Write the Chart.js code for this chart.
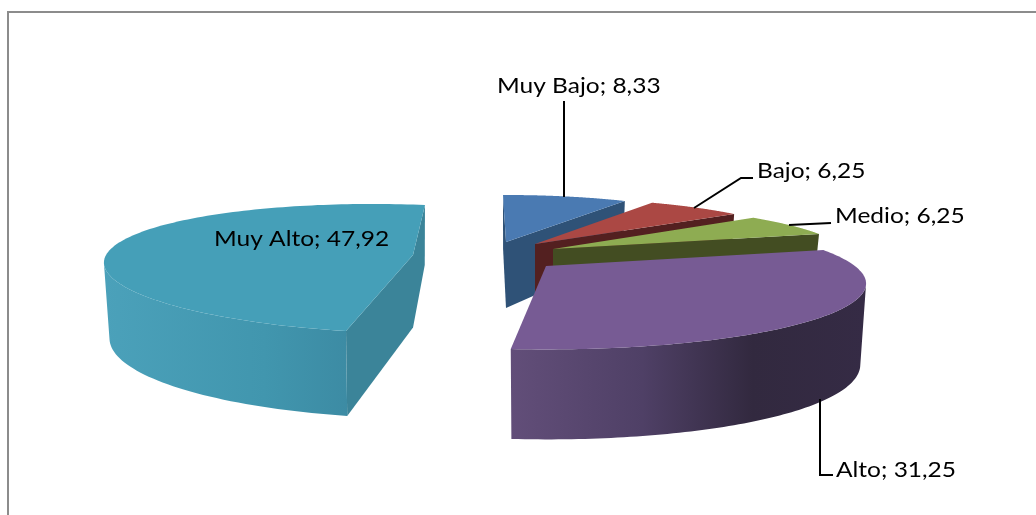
<!DOCTYPE html>
<html><head><meta charset="utf-8">
<script src="https://cdn.jsdelivr.net/npm/chart.js@4"></script>
<style>html,body{margin:0;padding:0;background:#fff}canvas{display:block}</style>
</head><body><canvas id="c" width="1036" height="515"></canvas>
<script>
const categories = ['Muy Bajo','Bajo','Medio','Alto','Muy Alto'];
const values = [8.33,6.25,6.25,31.25,47.92];

// painting order and look of each slice (index into the arrays above)
const paintOrder = [4,0,1,2,3];
const topColors  = ['#4a7ab2','#ab4844','#8eac52','#775b94','#459fb8'];
const wallColors = ['#2f5277','#532020','#434d22','#332a42','#3b8499'];
const rimStops = [
  [[0,'#2f5277'],[1,'#2f5277']],
  [[0,'#532020'],[1,'#532020']],
  [[0,'#434d22'],[1,'#434d22']],
  [[0,'#624e79'],[.37,'#4f4066'],[.68,'#32293f'],[1,'#352b45']],
  [[0,'#4ba1ba'],[.5,'#4196ae'],[1,'#38819a']]
];
// tilted, exploded 3D view of each slice: origin, plane axes, perspective, thickness
const views = [
  {o:[506,242], ex:[243,-.6],   ey:[3,47],      a:0,     b:0,     d:66},
  {o:[535,244], ex:[264.5,-2.2],ey:[17.5,46.4], a:0,     b:0,     d:60},
  {o:[553,249], ex:[287.8,-2.7],ey:[46.2,47.9], a:0,     b:0,     d:50},
  {o:[546,266], ex:[318,-1],    ey:[14.7,63.7], a:.0339, b:-.2352,d:77.5},
  {o:[413,255], ex:[289,9.7],   ey:[-14.6,61],  a:.0286, b:-.2198,d:72.5}
];
const depthSlope = 12.5, sideShrink = -.018;

// data label layout
const labelFont = '22px Lato', labelStretch = 1.114;
const labelPos = [[497,86],[757,171],[835,216],[836,470],[214,239]];
const leaders = [
  [[564,101],[564,197]],
  [[694,208],[741,178],[753,178]],
  [[789,225],[831,223]],
  [[820,399],[820,475],[833,475]],
  []
];
const fmt = v => v.toFixed(2).replace('.',',');

function project(v, ang){
  const u = Math.cos(ang), w = Math.sin(ang), s = 1 + v.a*u + v.b*w;
  return [v.o[0] + (u*v.ex[0] + w*v.ey[0])/s, v.o[1] + (u*v.ex[1] + w*v.ey[1])/s, w];
}
function lower(v, p){
  return [p[0] + sideShrink*(p[0]-v.o[0]), p[1] + v.d + depthSlope*p[2]];
}
const cross = (a,b) => a[0]*b[1]-a[1]*b[0];

const pie3d = {
  id:'pie3d',
  beforeDraw(chart){
    const c = chart.ctx;
    c.save();
    c.fillStyle = '#fff'; c.fillRect(0,0,chart.width,chart.height);
    c.strokeStyle = '#8c8c8c'; c.lineWidth = 2;
    c.beginPath(); c.moveTo(8,chart.height); c.lineTo(8,12); c.lineTo(chart.width,12); c.stroke();
    c.restore();
  },
  beforeDatasetsDraw(chart){
    const c = chart.ctx, arcs = chart.getDatasetMeta(0).data;
    paintOrder.forEach(i => {
      const arc = arcs[i], v = views[i], a0 = arc.startAngle, a1 = arc.endAngle;
      const n = 120, rim = [];
      for(let k=0;k<=n;k++) rim.push(project(v, a0+(a1-a0)*k/n));
      const low = rim.map(p => lower(v,p));
      const oTop = [v.o[0],v.o[1]], oLow = [v.o[0], v.o[1]+v.d];
      // curved outer wall: only the part of the rim that faces the viewer
      const xs = rim.map(p=>p[0]), x0 = Math.min(...xs), x1 = Math.max(...xs);
      const g = c.createLinearGradient(x0,0,x1,0);
      rimStops[i].forEach(s => g.addColorStop(s[0],s[1]));
      const front = [];
      for(let k=0;k<=n;k++){
        const next = rim[Math.min(k+1,n)], prev = rim[Math.max(k-1,0)];
        if(next[0]-prev[0] < 0) front.push(k);
      }
      if(front.length > 1){
        c.fillStyle = g;
        c.beginPath();
        front.forEach((k,j)=> j?c.lineTo(rim[k][0],rim[k][1]):c.moveTo(rim[k][0],rim[k][1]));
        front.slice().reverse().forEach(k=>c.lineTo(low[k][0],low[k][1]));
        c.closePath(); c.fill();
      }
      // flat cut walls, when they face the viewer
      const mid = rim[n>>1], inner = [mid[0]-oTop[0],mid[1]-oTop[1]];
      [0,n].forEach(k => {
        const e = [rim[k][0]-oTop[0],rim[k][1]-oTop[1]];
        if(cross(e,[0,1])*cross(e,inner) < 0){
          c.fillStyle = wallColors[i];
          c.beginPath(); c.moveTo(oTop[0],oTop[1]); c.lineTo(rim[k][0],rim[k][1]);
          c.lineTo(low[k][0],low[k][1]); c.lineTo(oLow[0],oLow[1]); c.closePath(); c.fill();
        }
      });
      // top face
      c.fillStyle = topColors[i];
      c.beginPath(); c.moveTo(oTop[0],oTop[1]);
      rim.forEach(p=>c.lineTo(p[0],p[1]));
      c.closePath(); c.fill();
    });
    return false;
  },
  afterDraw(chart){
    const c = chart.ctx;
    c.save();
    c.strokeStyle = '#000'; c.lineWidth = 2; c.fillStyle = '#000';
    leaders.forEach(pts => {
      if(!pts.length) return;
      c.beginPath(); pts.forEach((p,k)=>k?c.lineTo(p[0],p[1]):c.moveTo(p[0],p[1])); c.stroke();
    });
    c.font = labelFont; c.textBaseline = 'middle'; c.textAlign = 'left';
    categories.forEach((name,i)=> {
      c.save();
      c.translate(labelPos[i][0], labelPos[i][1]);
      c.scale(labelStretch,1);
      c.fillText(name+'; '+fmt(values[i]), 0, 0);
      c.restore();
    });
    c.restore();
  }
};

new Chart(document.getElementById('c'),{
  type:'pie',
  data:{labels:categories,datasets:[{data:values,backgroundColor:topColors,borderWidth:0}]},
  options:{responsive:false,animation:false,events:[],rotation:0,
    plugins:{legend:{display:false},tooltip:{enabled:false}}},
  plugins:[pie3d]
});
</script></body></html>
